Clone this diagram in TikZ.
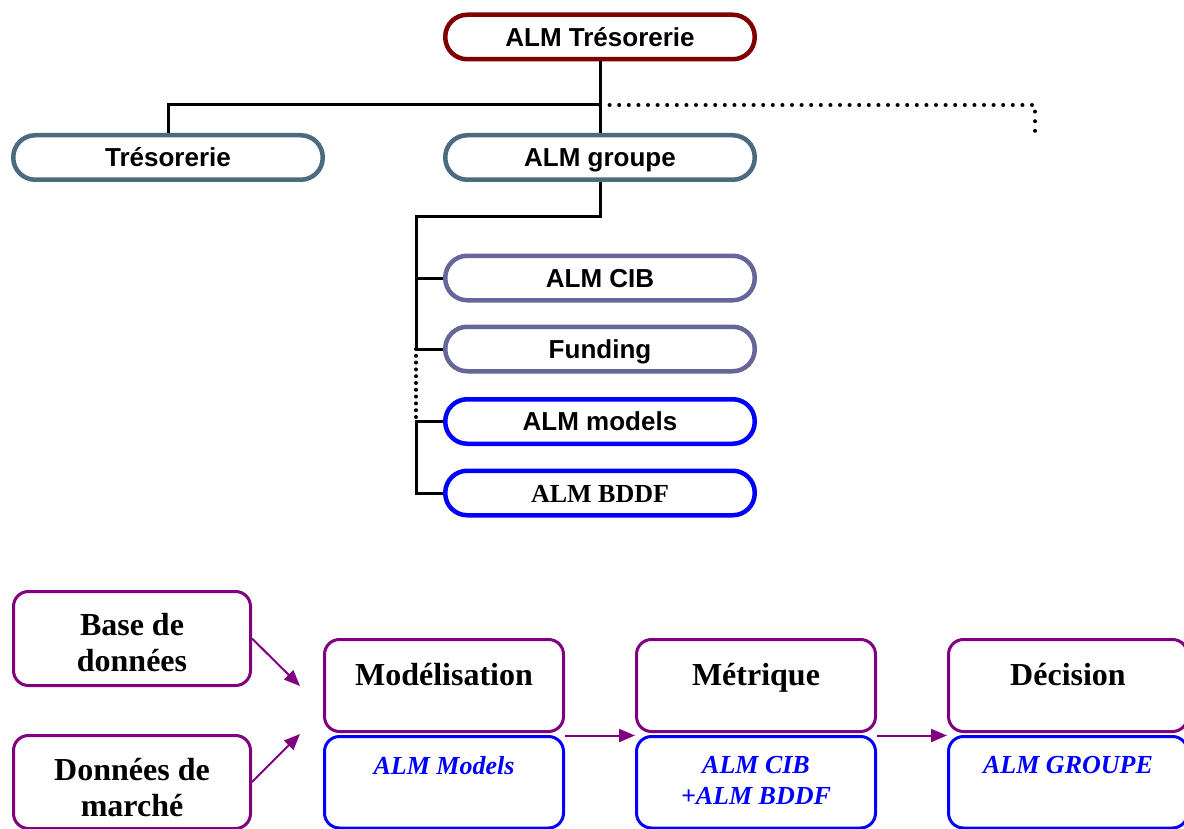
\documentclass[tikz,border=0pt]{standalone}
\usepackage{fontspec}
\setmainfont{Liberation Serif}
\newfontfamily\arialfont{Liberation Sans}
\usetikzlibrary{arrows.meta,positioning,calc}
\definecolor{almred}{HTML}{800000}
\definecolor{almslate}{HTML}{4D6B7E}
\definecolor{almlilac}{HTML}{666699}
\definecolor{almblue}{HTML}{0000FF}
\definecolor{almpurple}{HTML}{800080}

\begin{document}
\begin{tikzpicture}[x=.5pt,y=-.5pt,
 pill/.style={draw,line width=2.25pt,rounded corners=11pt,fill=white,inner sep=0pt,
  minimum width=154.75pt,minimum height=22.25pt,text height=9.3pt,text depth=0pt,
  font=\arialfont\bfseries\fontsize{13}{15}\selectfont},
 link/.style={line width=1.5pt,draw=black},
 dotline/.style={link,line width=2pt,line cap=round,dash pattern=on 0pt off 4.8pt},
 finedots/.style={link,line width=2pt,line cap=round,dash pattern=on 0pt off 3.4pt},
 card/.style={draw,line width=1.5pt,rounded corners=7.5pt,inner sep=0pt,minimum width=119.5pt},
 src/.style={card,draw=almpurple,minimum width=118.5pt},
 stage/.style={card,draw=almpurple,minimum height=46pt},
 owner/.style={card,draw=almblue,minimum height=45.75pt},
 srctxt/.style={anchor=north,inner sep=0pt,align=center,font=\bfseries\fontsize{16}{18}\selectfont},
 stagetxt/.style={anchor=base,inner sep=0pt,font=\bfseries\fontsize{16}{19}\selectfont},
 ownertxt/.style={anchor=north,inner sep=0pt,text=almblue,align=center,font=\bfseries\itshape\fontsize{13}{15.5}\selectfont},
 flow/.style={-{Triangle[length=8pt,width=6.5pt]},line width=1pt,draw=almpurple}]

\useasboundingbox (0,0) rectangle (1184,829);
\clip (0,0) rectangle (1184,829);

\node[pill,draw=almred] (top) at (600,37) {ALM Trésorerie};
\node[pill,draw=almslate] (treso) at (168,157.5) {Trésorerie};
\node[pill,draw=almslate] (almgrp) at (600,157.5) {ALM groupe};
\node[pill,draw=almlilac] (cib) at (600,278) {ALM CIB};
\node[pill,draw=almlilac] (funding) at (600,349) {Funding};
\node[pill,draw=almblue] (models) at (600,421.5) {ALM models};
\node[pill,draw=almblue,font=\bfseries\fontsize{13}{15}\selectfont] (bddf) at (600,493) {ALM BDDF};

\coordinate (hub) at (600,105);
\coordinate (more) at (1035,135);
\coordinate (spine) at (416,216);
\draw[link] (top.south) -- (almgrp.north);
\draw[link] (treso.north) |- (hub);
\draw[dotline] (hub) -| (more);
\draw[link] (almgrp.south) |- (spine) |- (cib.west);
\draw[link] (spine) |- (funding.west);
\draw[finedots] (funding.west -| spine) -- (models.west -| spine);
\draw[link] (models.west) -| (bddf.west -| spine) -- (bddf.west);

\node[src,minimum height=47pt] (base) at (132,638.5) {};
\node[src,minimum height=46.5pt] (marche) at (132,782) {};
\node[srctxt] (basetxt) at (132,613) {Base de\\données};
\node[srctxt] (marchetxt) at (132,758) {Données de\\marché};
\node[owner] (almmodels) at (444,782.25) {};
\node[owner] (cibbddf) at (756,782.25) {};
\node[owner] (almgroupe) at (1068,782.25) {};
\node[stage] (modelis) at (444,685.5) {};
\node[stage] (metrique) at (756,685.5) {};
\node[stage] (decision) at (1068,685.5) {};
\node[stagetxt] (modelistxt) at (444,685) {Modélisation};
\node[stagetxt] (metriquetxt) at (756,685) {Métrique};
\node[stagetxt] (decisiontxt) at (1068,685) {Décision};
\node[ownertxt] (modelstxt) at (444,756) {ALM Models};
\node[ownertxt] (cibtxt) at (756,756) {ALM CIB\\+ALM BDDF};
\node[ownertxt] (groupetxt) at (1068,756) {ALM GROUPE};

\coordinate (entryA) at (300,686);
\coordinate (entryB) at (300,734);
\draw[flow] (base.east) -- (entryA);
\draw[flow] (marche.east) -- (entryB);
\draw[flow] ($(modelis.south east)+(0,2.5)$) -- ($(metrique.south west)+(0,2.5)$);
\draw[flow] ($(metrique.south east)+(0,2.5)$) -- ($(decision.south west)+(0,2.5)$);
\end{tikzpicture}
\end{document}
